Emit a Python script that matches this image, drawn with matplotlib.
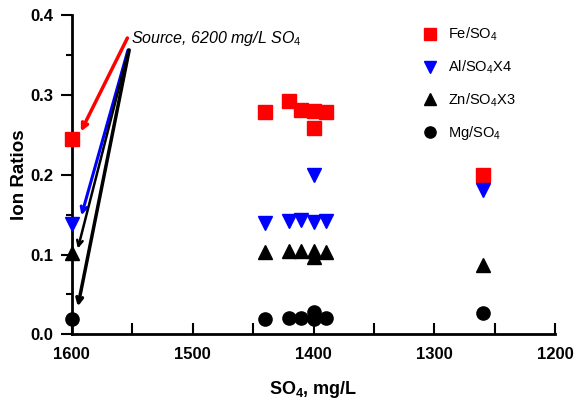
import numpy as np
import matplotlib
matplotlib.use('Agg')
import matplotlib.pyplot as plt

plt.rcParams['font.family'] = ['Liberation Sans', 'DejaVu Sans']
plt.rcParams['mathtext.fontset'] = 'custom'
plt.rcParams['mathtext.rm'] = 'Liberation Sans'
plt.rcParams['mathtext.it'] = 'Liberation Sans:italic'
plt.rcParams['mathtext.bf'] = 'Liberation Sans:bold'

# SO4 concentration of each sample (mg/L)
so4 = [1600, 1440, 1420, 1410, 1400, 1400, 1390, 1260]
# ion ratios
fe_so4 = [0.245, 0.279, 0.292, 0.281, 0.280, 0.258, 0.279, 0.200]
al_so4_x4 = [0.138, 0.140, 0.142, 0.143, 0.141, 0.200, 0.142, 0.181]
zn_so4_x3 = [0.102, 0.103, 0.105, 0.105, 0.105, 0.097, 0.103, 0.087]
mg_so4 = [0.019, 0.019, 0.020, 0.020, 0.019, 0.0285, 0.020, 0.0265]

labels = ['Fe/SO$_4$', 'Al/SO$_4$X4', 'Zn/SO$_4$X3', 'Mg/SO$_4$']

fig = plt.figure(figsize=(5.79, 4.01), dpi=100)
ax = fig.add_axes([0.124, 0.166, 0.835, 0.797])

ms = 9.5
h1, = ax.plot(so4, fe_so4, 's', color='#ff0000', ms=ms, label=labels[0], clip_on=False, zorder=5)
h2, = ax.plot(so4, al_so4_x4, 'v', color='#0000ff', ms=ms + 1, label=labels[1], clip_on=False, zorder=5)
h3, = ax.plot(so4, zn_so4_x3, '^', color='black', ms=ms + 1, label=labels[2], clip_on=False, zorder=5)
h4, = ax.plot(so4, mg_so4, 'o', color='black', ms=ms, label=labels[3], clip_on=False, zorder=5)

ax.set_xlim(1600, 1200)
ax.set_ylim(0, 0.4)
ax.set_xticks([1600, 1500, 1400, 1300, 1200])
ax.set_xticks([1550, 1450, 1350, 1250], minor=True)
ax.set_yticks([0.0, 0.1, 0.2, 0.3, 0.4])
ax.set_yticks([0.05, 0.15, 0.25, 0.35], minor=True)
ax.set_yticklabels(['0.0', '0.1', '0.2', '0.3', '0.4'])

for s in ['top', 'right']:
    ax.spines[s].set_visible(False)
for s in ['left', 'bottom']:
    ax.spines[s].set_linewidth(2)

ax.tick_params(axis='x', which='both', direction='in', length=8, width=1.5,
               labelsize=12, pad=9)
ax.tick_params(axis='y', which='major', direction='out', length=8, width=1.5,
               labelsize=12, pad=5)
ax.tick_params(axis='y', which='minor', direction='out', length=4, width=1.5)
for lab in ax.get_xticklabels() + ax.get_yticklabels():
    lab.set_fontweight('bold')

ax.set_xlabel('SO$_\\mathbf{4}$, mg/L', fontsize=13, fontweight='bold', labelpad=12)
ax.set_ylabel('Ion Ratios', fontsize=13.5, fontweight='bold', labelpad=2)

# source annotation with arrows
ax.text(1551, 0.37, 'Source, 6200 mg/L SO$_4$', fontsize=11.5, style='italic',
        va='center', ha='left')
ax.annotate('', xy=(1592.5, 0.254), xytext=(1554, 0.371),
            arrowprops=dict(arrowstyle='->', color='#ff0000', lw=2.5,
                            shrinkA=0, shrinkB=0))
ax.annotate('', xy=(1592, 0.149), xytext=(1553.5, 0.356),
            arrowprops=dict(arrowstyle='->', color='#0000ff', lw=2.2,
                            shrinkA=0, shrinkB=0))
ax.annotate('', xy=(1595, 0.1075), xytext=(1553, 0.356),
            arrowprops=dict(arrowstyle='->', color='black', lw=1.8,
                            shrinkA=0, shrinkB=0))
ax.annotate('', xy=(1595, 0.035), xytext=(1552.5, 0.356),
            arrowprops=dict(arrowstyle='->', color='black', lw=2.5,
                            shrinkA=0, shrinkB=0))

ax.legend(handles=[h1, h2, h3, h4], loc='upper left', bbox_to_anchor=(0.708, 0.968),
          bbox_transform=fig.transFigure, frameon=False, fontsize=10.5,
          labelspacing=1.05, handlelength=1.0, handletextpad=0.7, numpoints=1,
          markerscale=0.85)

fig.savefig('out.png', dpi=100)
